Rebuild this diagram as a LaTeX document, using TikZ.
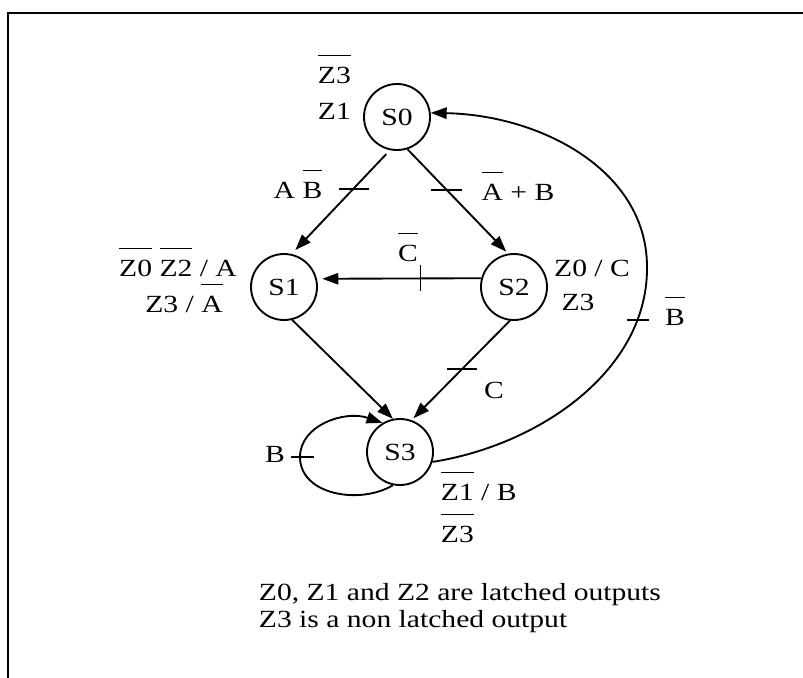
\documentclass[tikz,border=0pt]{standalone}
\usepackage{fontspec}
\setmainfont{Liberation Serif}[FakeStretch=1.2]
\usetikzlibrary{arrows.meta}
% bar over a signal name
\newcommand\inv[1]{{\setbox0\hbox{#1}\rlap{\rule[1.08em]{\wd0}{1.2pt}}\box0}}

\begin{document}
\begin{tikzpicture}[x=0.75pt,y=-0.75pt,line width=1.4pt,
    every node/.style={font=\fontsize{18.5}{21}\selectfont,inner sep=0pt},
    stnode/.style={draw,circle,minimum size=49.5pt},
    trans/.style={-{Triangle[length=12pt,width=8.5pt]}}]
    \useasboundingbox (0,0) rectangle (803,678);
    % frame
    \draw[line width=1.6pt] (803,13) -- (8,13) -- (8,678);

    % -------------------------
    % States
    % -------------------------
    \node[stnode] (s0) at (397,117) {S0};
    \node[stnode] (s1) at (284,287) {S1};
    \node[stnode] (s2) at (514,287) {S2};
    \node[stnode] (s3) at (400,452) {S3};

    % -------------------------
    % Transitions
    % -------------------------
    \draw[trans,shorten <=4pt,shorten >=4pt] (s0.-102) -- coordinate[pos=.37] (tab) (s1.77);
    \draw[trans,shorten >=2pt] (s0.-72) -- coordinate[pos=.39] (tapb) (s2.100);
    \draw[trans,shorten >=4pt] (s2.165) -- coordinate[pos=.37] (tnc) (s1.14);
    \draw[trans] (s1.-76) -- (s3.102);
    \draw[trans,shorten >=2pt] (s2.-97) -- coordinate[pos=.49] (tc) (s3.70);
    \draw[trans] (s3.-17) .. controls (540,445) and (648,370) .. (647,267) coordinate[pos=.82] (tnb)
        .. controls (647,170) and (540,115) .. (s0.7);
    \draw[trans] (s3.-102) .. controls (360,505) and (300,495) .. (300,457) coordinate (tb)
        .. controls (300,425) and (345,410) .. (s3.121);

    % ticks on the transitions
    \draw ([xshift=-11.25pt]tab) -- ([xshift=11.25pt]tab);
    \draw ([xshift=-11.5pt]tapb) -- ([xshift=11.5pt]tapb);
    \draw ([yshift=-9.75pt]tnc) -- ([yshift=9.75pt]tnc);
    \draw ([xshift=-11.25pt]tc) -- ([xshift=11.25pt]tc);
    \draw ([xshift=-8.25pt]tnb) -- ([xshift=8.25pt]tnb);
    \draw ([xshift=-6.75pt]tb) -- ([xshift=10.5pt]tb);

    % -------------------------
    % Conditions
    % -------------------------
    \node[anchor=base] (lab) at (298,198) {A \inv{B}};
    \node[anchor=base] (lapb) at (518,200) {\inv{A} + B};
    \node[anchor=base] (lnc) at (408,261) {\inv{C}};
    \node[anchor=base] (lc) at (494,398) {C};
    \node[anchor=base] (lnb) at (675,325) {\inv{B}};
    \node[anchor=base] (lb) at (275,462) {B};

    % -------------------------
    % Outputs
    % -------------------------
    \node[anchor=base west] (o0a) at (317,83) {\inv{Z3}};
    \node[anchor=base west] (o0b) at (317,119) {Z1};
    \node[anchor=base] (o1a) at (178,276) {\inv{Z0} \inv{Z2} / A};
    \node[anchor=base] (o1b) at (184,312) {Z3 / \inv{A}};
    \node[anchor=base] (o2a) at (592,276) {Z0 / C};
    \node[anchor=base] (o2b) at (578,310) {Z3};
    \node[anchor=base west] (o3a) at (440,500) {\inv{Z1} / B};
    \node[anchor=base west] (o3b) at (440,542) {\inv{Z3}};

    % note
    \node[anchor=base west] (n1) at (258,600) {Z0, Z1 and Z2 are latched outputs};
    \node[anchor=base west] (n2) at (258,627) {Z3 is a non latched output};
\end{tikzpicture}
\end{document}
